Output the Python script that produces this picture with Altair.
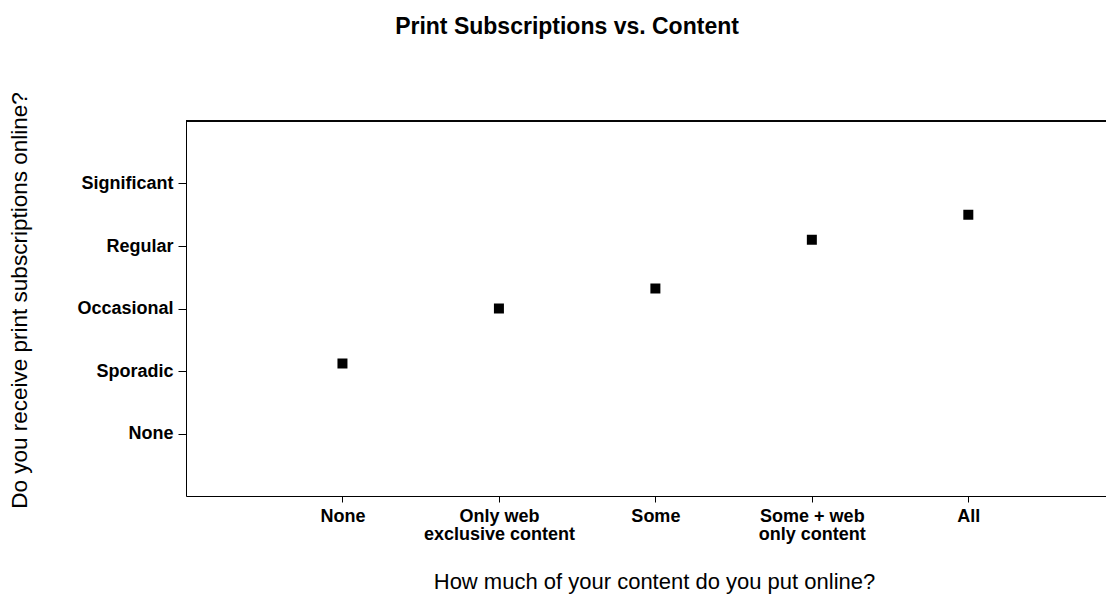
import altair as alt
import pandas as pd
import json

# ---- data ----
x_categories = ["None", "Only web\nexclusive content", "Some", "Some + web\nonly content", "All"]
y_levels = ["None", "Sporadic", "Occasional", "Regular", "Significant"]
y_values = [2.12, 3.0, 3.32, 4.10, 4.50]

df = pd.DataFrame({
    "pos": list(range(1, len(x_categories) + 1)),
    "category": x_categories,
    "score": y_values,
})

FONT = "Liberation Sans"
W, H = 920, 375

x_label_expr = "split(" + json.dumps(x_categories) + "[datum.value - 1], '\\n')"
y_label_expr = json.dumps(y_levels) + "[datum.value - 1]"

points = alt.Chart(df).mark_square(size=100, color="black", filled=True, opacity=1).encode(
    x=alt.X(
        "pos:Q",
        scale=alt.Scale(domain=[0, 5.88], nice=False, zero=False),
        axis=alt.Axis(
            values=[1, 2, 3, 4, 5],
            labelExpr=x_label_expr,
            title="How much of your content do you put online?",
            grid=False,
            domainColor="black",
            domainWidth=1,
            tickColor="black",
            tickSize=6,
            labelPadding=5,
            labelFont=FONT,
            labelFontSize=18,
            labelFontWeight="bold",
            labelColor="black",
            labelLineHeight=18,
            labelBaseline="top",
            titleFont=FONT,
            titleFontSize=22,
            titleFontWeight="normal",
            titleColor="black",
            titleX=654 - 186,
            titleY=92,
            titleBaseline="alphabetic",
            titleAnchor="middle",
            titleAlign="center",
        ),
    ),
    y=alt.Y(
        "score:Q",
        scale=alt.Scale(domain=[0, 6], nice=False, zero=False),
        axis=alt.Axis(
            values=[1, 2, 3, 4, 5],
            labelExpr=y_label_expr,
            title="Do you receive print subscriptions online?",
            grid=False,
            domainColor="black",
            domainWidth=1,
            tickColor="black",
            tickSize=8,
            labelPadding=5,
            labelFont=FONT,
            labelFontSize=18,
            labelFontWeight="bold",
            labelColor="black",
            titleFont=FONT,
            titleFontSize=22.5,
            titleFontWeight="normal",
            titleColor="black",
            titleAngle=270,
            titleX=-160,
            titleY=179,
            titleAlign="center",
            titleBaseline="alphabetic",
        ),
    ),
)

top_border = alt.Chart(df).mark_rule(color="black", strokeWidth=1).encode(
    x=alt.value(0), x2=alt.value(W), y=alt.value(0)
)

chart = alt.layer(top_border, points).properties(
    width=W,
    height=H,
    title=alt.TitleParams(
        "Print Subscriptions vs. Content",
        font=FONT,
        fontSize=23,
        fontWeight="bold",
        color="black",
        anchor="middle",
        dx=567 - 646,
        offset=35,
        baseline="alphabetic",
    ),
    autosize=alt.AutoSizeParams(type="none"),
    padding={"left": 178, "top": 113, "right": 0, "bottom": 99},
).configure_view(stroke=None).configure(background="white")

chart.save("out.html", embed_options={"renderer": "svg", "actions": False})
